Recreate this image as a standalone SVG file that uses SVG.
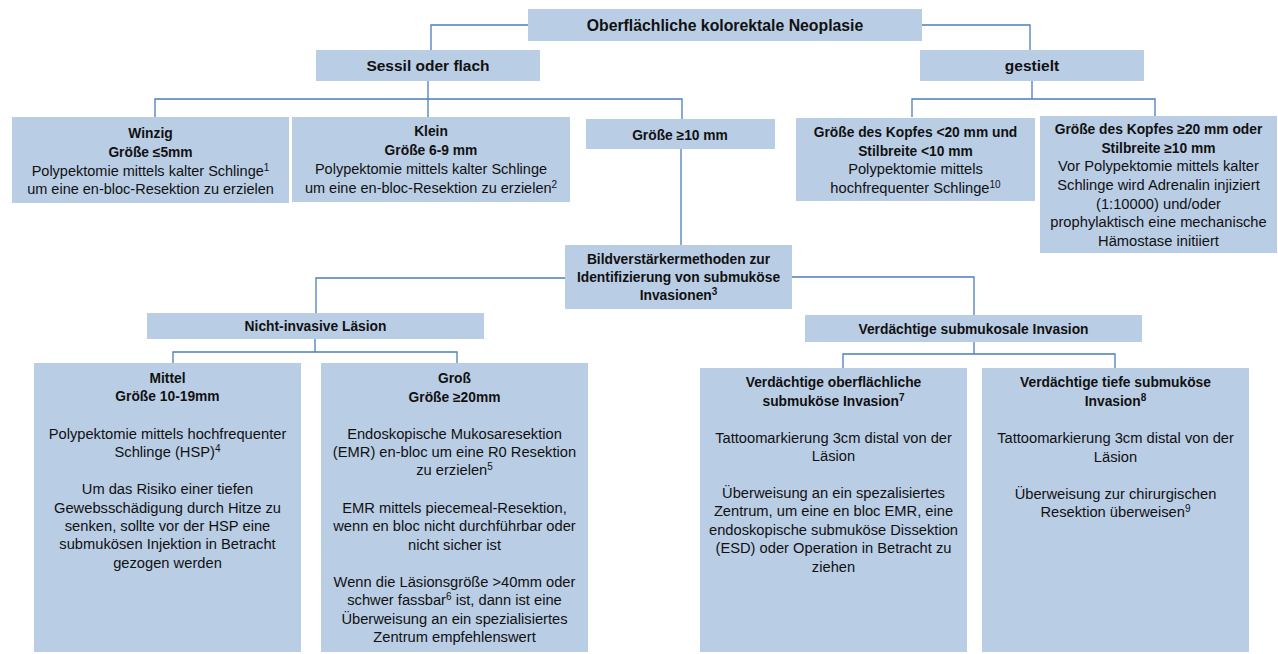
<svg xmlns="http://www.w3.org/2000/svg" width="1278" height="654" viewBox="0 0 1278 654">
<style>
.box{fill:#B9CDE5}
.conn{fill:none;stroke:#4A7EBB;stroke-width:1.3}
text{font-family:"Liberation Sans",Arial,sans-serif;fill:#111;text-anchor:middle}
.r{font-size:14.7px}
.b{font-size:13.8px;font-weight:bold}
.h{font-size:15.5px;font-weight:bold}
.sup{font-size:10px}
</style>
<rect width="1278" height="654" fill="#fff"/>
<g id="connectors" class="conn">
<path d="M528,25 H431 V50"/>
<path d="M922,25 H1030 V50"/>
<path d="M428,81 V99 M155,117 V99 H682 V119 M428,99 V117"/>
<path d="M1032,81 V99 M912,117 V99 H1155 V116"/>
<path d="M681,149 V245"/>
<path d="M565,278 H316 V313"/>
<path d="M792,277 H974 V315"/>
<path d="M315,339 V352 M173,363 V352 H457 V363"/>
<path d="M974,342 V354 M843,368 V354 H1115 V368"/>
</g>
<g id="n-root"><rect class="box" x="528" y="9" width="394" height="32"/><text class="h" x="725" y="30.5" style="font-size:15.8px">Oberflächliche kolorektale Neoplasie</text></g>
<g id="n-sessil"><rect class="box" x="316" y="50" width="224" height="31"/><text class="h" x="428" y="71">Sessil oder flach</text></g>
<g id="n-gestielt"><rect class="box" x="920" y="50" width="224" height="31"/><text class="h" x="1032" y="71">gestielt</text></g>
<g id="n-winzig"><rect class="box" x="12" y="117" width="277" height="86"/>
<text class="b" x="150.5" y="138">Winzig</text>
<text class="b" x="150.5" y="157">Größe ≤5mm</text>
<text class="r" x="150.5" y="176" style="font-size:14.5px">Polypektomie mittels kalter Schlinge<tspan class="sup" dy="-5">1</tspan></text>
<text class="r" x="150.5" y="194" style="font-size:14.5px">um eine en-bloc-Resektion zu erzielen</text></g>
<g id="n-klein"><rect class="box" x="292" y="117" width="278" height="85"/>
<text class="b" x="431" y="136">Klein</text>
<text class="b" x="431" y="155">Größe 6-9 mm</text>
<text class="r" x="431" y="174" style="font-size:14.5px">Polypektomie mittels kalter Schlinge</text>
<text class="r" x="431" y="193" style="font-size:14.5px">um eine en-bloc-Resektion zu erzielen<tspan class="sup" dy="-5">2</tspan></text></g>
<g id="n-gross10"><rect class="box" x="586" y="119" width="189" height="30"/><text class="b" x="680" y="140">Größe ≥10 mm</text></g>
<g id="n-kopf-klein"><rect class="box" x="796" y="118" width="239" height="83"/>
<text class="b" x="915.5" y="137">Größe des Kopfes &lt;20 mm und</text>
<text class="b" x="915.5" y="156">Stilbreite &lt;10 mm</text>
<text class="r" x="915.5" y="174">Polypektomie mittels</text>
<text class="r" x="915.5" y="193">hochfrequenter Schlinge<tspan class="sup" dy="-5">10</tspan></text></g>
<g id="n-kopf-gross"><rect class="box" x="1040" y="116" width="237" height="137"/>
<text class="b" x="1158.5" y="134">Größe des Kopfes ≥20 mm oder</text>
<text class="b" x="1158.5" y="153">Stilbreite ≥10 mm</text>
<text class="r" x="1158.5" y="171">Vor Polypektomie mittels kalter</text>
<text class="r" x="1158.5" y="190">Schlinge wird Adrenalin injiziert</text>
<text class="r" x="1158.5" y="209">(1:10000) und/oder</text>
<text class="r" x="1158.5" y="227">prophylaktisch eine mechanische</text>
<text class="r" x="1158.5" y="246">Hämostase initiiert</text></g>
<g id="n-bild"><rect class="box" x="565" y="245" width="227" height="64"/>
<text class="b" x="678.5" y="264">Bildverstärkermethoden zur</text>
<text class="b" x="678.5" y="282">Identifizierung von submuköse</text>
<text class="b" x="678.5" y="300">Invasionen<tspan class="sup" dy="-5">3</tspan></text></g>
<g id="n-nichtinvasiv"><rect class="box" x="147" y="313" width="337" height="26"/><text class="b" x="315.5" y="331">Nicht-invasive Läsion</text></g>
<g id="n-verdaechtig"><rect class="box" x="805" y="315" width="337" height="27"/><text class="b" x="973.5" y="333.5">Verdächtige submukosale Invasion</text></g>
<g id="n-mittel"><rect class="box" x="34" y="363" width="267" height="289"/>
<text class="b" x="167.5" y="383">Mittel</text>
<text class="b" x="167.5" y="401">Größe 10-19mm</text>
<text class="r" x="167.5" y="439">Polypektomie mittels hochfrequenter</text>
<text class="r" x="167.5" y="457">Schlinge (HSP)<tspan class="sup" dy="-5">4</tspan></text>
<text class="r" x="167.5" y="494">Um das Risiko einer tiefen</text>
<text class="r" x="167.5" y="513">Gewebsschädigung durch Hitze zu</text>
<text class="r" x="167.5" y="531">senken, sollte vor der HSP eine</text>
<text class="r" x="167.5" y="549">submukösen Injektion in Betracht</text>
<text class="r" x="167.5" y="568">gezogen werden</text></g>
<g id="n-gross"><rect class="box" x="321" y="363" width="267" height="289"/>
<text class="b" x="454.5" y="383">Groß</text>
<text class="b" x="454.5" y="402">Größe ≥20mm</text>
<text class="r" x="454.5" y="439">Endoskopische Mukosaresektion</text>
<text class="r" x="454.5" y="457">(EMR) en-bloc um eine R0 Resektion</text>
<text class="r" x="454.5" y="475">zu erzielen<tspan class="sup" dy="-5">5</tspan></text>
<text class="r" x="454.5" y="513">EMR mittels piecemeal-Resektion,</text>
<text class="r" x="454.5" y="531">wenn en bloc nicht durchführbar oder</text>
<text class="r" x="454.5" y="550">nicht sicher ist</text>
<text class="r" x="454.5" y="587">Wenn die Läsionsgröße &gt;40mm oder</text>
<text class="r" x="454.5" y="605">schwer fassbar<tspan class="sup" dy="-5">6</tspan><tspan dy="5"> ist, dann ist eine</tspan></text>
<text class="r" x="454.5" y="624">Überweisung an ein spezialisiertes</text>
<text class="r" x="454.5" y="642">Zentrum empfehlenswert</text></g>
<g id="n-oberflaechlich"><rect class="box" x="700" y="368" width="267" height="284"/>
<text class="b" x="833.5" y="387">Verdächtige oberflächliche</text>
<text class="b" x="833.5" y="406">submuköse Invasion<tspan class="sup" dy="-5">7</tspan></text>
<text class="r" x="833.5" y="443">Tattoomarkierung 3cm distal von der</text>
<text class="r" x="833.5" y="461">Läsion</text>
<text class="r" x="833.5" y="498">Überweisung an ein spezalisiertes</text>
<text class="r" x="833.5" y="516">Zentrum, um eine en bloc EMR, eine</text>
<text class="r" x="833.5" y="535">endoskopische submuköse Dissektion</text>
<text class="r" x="833.5" y="553">(ESD) oder Operation in Betracht zu</text>
<text class="r" x="833.5" y="572">ziehen</text></g>
<g id="n-tief"><rect class="box" x="982" y="368" width="267" height="284"/>
<text class="b" x="1115.5" y="387">Verdächtige tiefe submuköse</text>
<text class="b" x="1115.5" y="406">Invasion<tspan class="sup" dy="-5">8</tspan></text>
<text class="r" x="1115.5" y="443">Tattoomarkierung 3cm distal von der</text>
<text class="r" x="1115.5" y="462">Läsion</text>
<text class="r" x="1115.5" y="499">Überweisung zur chirurgischen</text>
<text class="r" x="1115.5" y="517">Resektion überweisen<tspan class="sup" dy="-5">9</tspan></text></g>
</svg>
